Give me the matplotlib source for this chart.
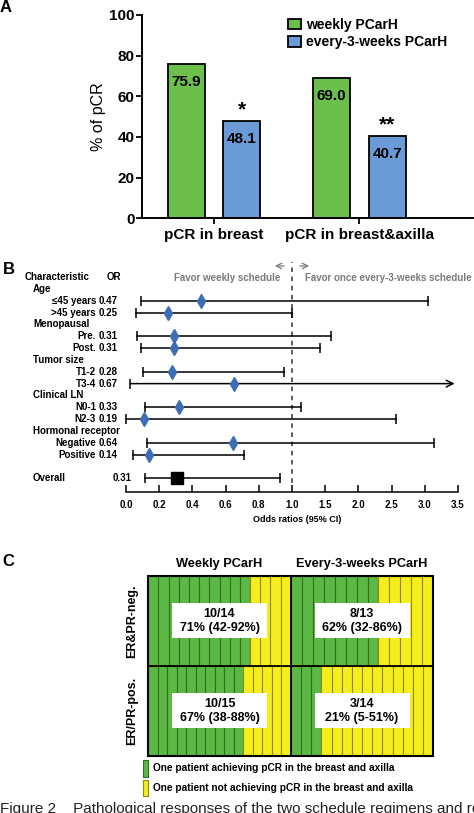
import numpy as np
import matplotlib
matplotlib.use("Agg")
import matplotlib.pyplot as plt
from matplotlib.patches import Rectangle
from matplotlib import transforms

plt.rcParams['font.family'] = ['Liberation Sans', 'DejaVu Sans']
plt.rcParams['font.weight'] = 'bold'

# --- panel A data
categories = ["pCR in breast", "pCR in breast&axilla"]
weekly = [75.9, 69.0]
q3w = [48.1, 40.7]
stars = ["*", "**"]

# --- panel B data (forest plot)
groups = ["Age", "Menopausal", "Tumor size", "Clinical LN", "Hormonal receptor"]
subgroups = ["≤45 years", ">45 years", "Pre.", "Post.", "T1-2", "T3-4",
             "N0-1", "N2-3", "Negative", "Positive"]
or_text = ["0.47", "0.25", "0.31", "0.31", "0.28", "0.67", "0.33", "0.19", "0.64", "0.14"]
or_point = [0.45, 0.25, 0.29, 0.29, 0.28, 0.65, 0.32, 0.11, 0.645, 0.14]
ci_low = [0.09, 0.06, 0.065, 0.09, 0.10, 0.025, 0.115, 0.0, 0.125, 0.045]
ci_high = [3.05, 1.0, 1.58, 1.42, 0.95, 3.45, 1.135, 2.57, 3.14, 0.71]
ci_arrow = [False, False, False, False, False, True, False, False, False, False]
overall_text = "0.31"
overall_point = 0.305
overall_ci = [0.115, 0.93]
or_ticks = [0.0, 0.2, 0.4, 0.6, 0.8, 1.0, 1.5, 2.0, 2.5, 3.0, 3.5]

# --- panel C data
arms = ["Weekly PCarH", "Every-3-weeks PCarH"]
strata = ["ER&PR-neg.", "ER/PR-pos."]
n_total = [[14, 13], [15, 14]]
n_pcr = [[10, 8], [10, 3]]
cell_text = [["10/14\n71% (42-92%)", "8/13\n62% (32-86%)"],
             ["10/15\n67% (38-88%)", "3/14\n21% (5-51%)"]]

W, H = 474, 813
green = '#6cbf4a'
blue = '#6b9bd6'
c_green = '#5cb845'
c_yellow = '#f6ee1c'


def box(l, t, r, b):
    return [l / W, 1 - b / H, (r - l) / W, (b - t) / H]


fig = plt.figure(figsize=(W / 100, H / 100), dpi=100)

# ================= A =================
axA = fig.add_axes(box(141.7, 15, 473, 218.3))
x = np.arange(len(categories))
b1 = axA.bar(x - 0.19, weekly, 0.255, color=green, edgecolor='black', lw=1.3,
             label="weekly PCarH")
b2 = axA.bar(x + 0.19, q3w, 0.255, color=blue, edgecolor='black', lw=1.3,
             label="every-3-weeks PCarH")
for bars, vals in [(b1, weekly), (b2, q3w)]:
    for r, v in zip(bars, vals):
        axA.annotate(f"{v:.1f}", (r.get_x() + r.get_width() / 2, v), xytext=(0, -13),
                     textcoords='offset points', ha='center', va='center', fontsize=11)
for r, v, s in zip(b2, q3w, stars):
    axA.annotate(s, (r.get_x() + r.get_width() / 2, v), xytext=(0, 1),
                 textcoords='offset points', ha='center', va='bottom', fontsize=15)
axA.set_xlim(-0.496, 1.78)
axA.set_ylim(0, 100)
axA.set_yticks(range(0, 101, 20))
axA.set_xticks(x)
axA.set_xticklabels(categories, fontsize=11)
axA.tick_params(axis='y', labelsize=11, length=4, width=1.3, pad=1)
axA.tick_params(axis='x', length=4, width=1.3, pad=3)
axA.set_ylabel("% of pCR", fontsize=11.5, labelpad=2)
for s in ['top', 'right']:
    axA.spines[s].set_visible(False)
for s in ['left', 'bottom']:
    axA.spines[s].set_linewidth(1.4)
axA.legend(loc='upper left', bbox_to_anchor=(288 / W, 1 - 18 / H), bbox_transform=fig.transFigure,
           frameon=False, fontsize=10, handlelength=0.95, handleheight=0.8,
           handletextpad=0.35, labelspacing=0.25, borderpad=0, borderaxespad=0)

fig.text(6 / W, 1 - 8 / H, "A", fontsize=12, ha='center', va='center')
fig.text(9 / W, 1 - 269 / H, "B", fontsize=12, ha='center', va='center')
fig.text(8 / W, 1 - 561 / H, "C", fontsize=12, ha='center', va='center')

# ================= B =================
def fwd(v):
    v = np.asarray(v, dtype=float)
    return np.where(v <= 1, v * 5, 5 + (v - 1) * 2)


def inv(u):
    u = np.asarray(u, dtype=float)
    return np.where(u <= 5, u / 5, 1 + (u - 5) / 2)


axB = fig.add_axes(box(126, 258, 458, 491.7))
axB.set_xscale('function', functions=(fwd, inv))
axB.set_xlim(0, 3.5)
axB.set_ylim(18.12, -1.6)
for s in ['top', 'right', 'left']:
    axB.spines[s].set_visible(False)
axB.spines['bottom'].set_linewidth(1.1)
axB.set_yticks([])
axB.set_xticks(or_ticks)
axB.set_xticklabels([f"{t:.1f}" for t in or_ticks], fontsize=7)
axB.xaxis.set_minor_locator(matplotlib.ticker.NullLocator())
axB.tick_params(axis='x', direction='in', length=5, width=1.1, pad=6)

gray = '#7a7a7a'
axB.axvline(1.0, ymin=0, ymax=(491.7 - 262) / (491.7 - 258), color='#333333',
            lw=1.1, ls=(0, (3, 3)))
axB.annotate("", xy=(0.88, -0.93), xytext=(0.97, -0.93),
             arrowprops=dict(arrowstyle='->', color=gray, lw=0.9), annotation_clip=False)
axB.annotate("", xy=(1.3, -0.93), xytext=(1.075, -0.93),
             arrowprops=dict(arrowstyle='->', color=gray, lw=0.9), annotation_clip=False)
axB.text(0.928, 0.08, "Favor weekly schedule", color=gray, fontsize=7,
         ha='right', va='center')
axB.text(1.195, 0.08, "Favor once every-3-weeks schedule", color=gray, fontsize=7,
         ha='left', va='center', clip_on=False)

trans = transforms.blended_transform_factory(fig.transFigure, axB.transData)
fs = 7
axB.text(25 / W, 0, "Characteristic", transform=trans, fontsize=fs, va='center')
axB.text(107 / W, 0, "OR", transform=trans, fontsize=fs, va='center')

for g, name in enumerate(groups):
    axB.text(33 / W, 1 + 3 * g, name, transform=trans, fontsize=fs, va='center')

for i, name in enumerate(subgroups):
    row = 2 + 3 * (i // 2) + (i % 2)
    axB.text(96 / W, row, name, transform=trans, fontsize=fs, va='center', ha='right')
    axB.text(99 / W, row, or_text[i], transform=trans, fontsize=fs, va='center')
    lo, hi = ci_low[i], ci_high[i]
    if ci_arrow[i]:
        axB.annotate("", xy=(hi, row), xytext=(lo, row),
                     arrowprops=dict(arrowstyle='->', color='black', lw=1.1,
                                     mutation_scale=12, shrinkA=0, shrinkB=0))
        axB.plot([lo], [row], marker='|', color='black', ms=7, mew=1.1, clip_on=False)
    else:
        axB.plot([lo, hi], [row, row], color='black', lw=1.1, clip_on=False)
        axB.plot([lo, hi], [row, row], ls='none', marker='|', color='black', ms=7, mew=1.1,
                 clip_on=False)
    axB.plot([or_point[i]], [row], marker='d', color='#3d6eb5', ms=7.5, zorder=5)

row = 17
axB.text(33 / W, row, "Overall", transform=trans, fontsize=fs, va='center')
axB.text(113 / W, row, overall_text, transform=trans, fontsize=fs, va='center')
axB.plot(overall_ci, [row, row], color='black', lw=1.1)
axB.plot(overall_ci, [row, row], ls='none', marker='|', color='black', ms=7, mew=1.1)
axB.plot([overall_point], [row], marker='s', color='black', ms=8.5, zorder=5)

fig.text(297 / W, 1 - 519 / H, "Odds ratios (95% CI)", fontsize=6.5, ha='center', va='center')

# ================= C =================
axC = fig.add_axes(box(148.3, 576, 433.3, 755.7))
axC.set_xlim(0, 2)
axC.set_ylim(2, 0)
axC.axis('off')
for i in range(len(strata)):
    for j in range(len(arms)):
        n, k = n_total[i][j], n_pcr[i][j]
        w = 1 / n
        left = j + np.arange(n) * w
        cols = [c_green] * k + [c_yellow] * (n - k)
        edges = ['#2f6e1c'] * k + ['#8c8a10'] * (n - k)
        axC.bar(left, 1, width=w, bottom=i, align='edge', color=cols,
                edgecolor=edges, lw=0.8)
        axC.add_patch(Rectangle((j + 0.5 - 0.333, i + 0.5 - 0.195), 0.667, 0.39,
                                fc='white', ec='none', zorder=3))
        axC.text(j + 0.5, i + 0.5, cell_text[i][j], ha='center', va='center',
                 fontsize=9, linespacing=1.25, zorder=4)
axC.add_patch(Rectangle((0, 0), 2, 2, fill=False, ec='black', lw=1.5, zorder=5,
                        clip_on=False))
axC.plot([1, 1], [0, 2], color='black', lw=1.3, zorder=5)
axC.plot([0, 2], [1, 1], color='black', lw=1.3, zorder=5)
for j, name in enumerate(arms):
    axC.text(j + 0.5, -0.134, name, ha='center', va='center', fontsize=9.2)
for i, name in enumerate(strata):
    axC.text(-0.116, i + 0.5, name, ha='center', va='center', rotation=90, fontsize=9)

legend_items = [(c_green, '#2f6e1c', "One patient achieving pCR in the breast and axilla"),
                (c_yellow, '#8c8a10', "One patient not achieving pCR in the breast and axilla")]
for k, (fc, ec, lab) in enumerate(legend_items):
    top = 760 + 19.5 * k
    fig.add_artist(Rectangle((142.7 / W, 1 - (top + 16.5) / H), 5.6 / W, 16.5 / H,
                             transform=fig.transFigure, fc=fc, ec=ec, lw=0.8))
    fig.text(153.3 / W, 1 - (top + 8) / H, lab, fontsize=7.3, va='center')

fig.text(0, 1 - 802 / H, "Figure 2    Pathological responses of the two schedule regimens and results",
         fontsize=11, fontweight='normal', color='#222222', va='top')

fig.savefig("out.png", dpi=100)
